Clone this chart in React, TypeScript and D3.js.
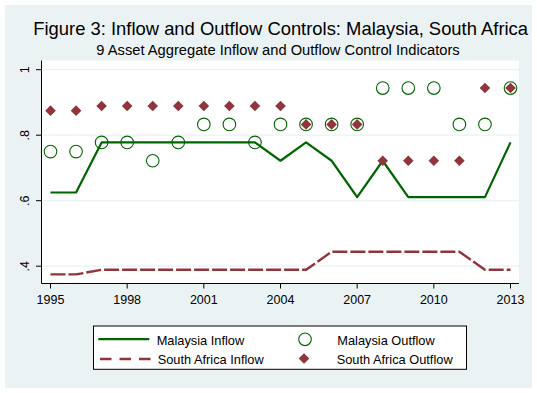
import React from "react";
import * as d3 from "d3";

const years = [1995, 1996, 1997, 1998, 1999, 2000, 2001, 2002, 2003, 2004, 2005, 2006, 2007, 2008, 2009, 2010, 2011, 2012, 2013];
const malaysiaInflow = [0.625, 0.625, 0.778, 0.778, 0.778, 0.778, 0.778, 0.778, 0.778, 0.722, 0.778, 0.722, 0.611, 0.722, 0.611, 0.611, 0.611, 0.611, 0.778];
const malaysiaOutflow = [0.75, 0.75, 0.778, 0.778, 0.722, 0.778, 0.833, 0.833, 0.778, 0.833, 0.833, 0.833, 0.833, 0.944, 0.944, 0.944, 0.833, 0.833, 0.944];
const southAfricaInflow = [0.375, 0.375, 0.389, 0.389, 0.389, 0.389, 0.389, 0.389, 0.389, 0.389, 0.389, 0.444, 0.444, 0.444, 0.444, 0.444, 0.444, 0.389, 0.389];
const southAfricaOutflow = [0.875, 0.875, 0.889, 0.889, 0.889, 0.889, 0.889, 0.889, 0.889, 0.889, 0.833, 0.833, 0.833, 0.722, 0.722, 0.722, 0.722, 0.944, 0.944];
const xTicks = [1995, 1998, 2001, 2004, 2007, 2010, 2013];
const yTicks = [0.4, 0.6, 0.8, 1];
const yTickLabels = [".4", ".6", ".8", "1"];
const title = "Figure 3: Inflow and Outflow Controls: Malaysia, South Africa";
const subtitle = "9 Asset Aggregate Inflow and Outflow Control Indicators";
const legendLabels = ["Malaysia Inflow", "Malaysia Outflow", "South Africa Inflow", "South Africa Outflow"];

const W = 537;
const H = 393;
const GREEN = "#006400";
const MAROON = "#90353B";
const BG = "#EAF2F3";
const FONT = "'Liberation Sans', Arial, sans-serif";

export default function App() {
  const plot = { left: 41.5, right: 519, top: 60.5, bottom: 283.5 };
  const x = d3.scaleLinear().domain([1995, 2013]).range([50.5, 510.5]);
  const y = d3.scaleLinear().domain([0.4, 1]).range([266.2, 69.7]);

  const line = d3
    .line<number>()
    .x((_, i) => x(years[i]))
    .y((d) => y(d));

  const diamond = (cx: number, cy: number, r: number) =>
    `M${cx},${cy - r}L${cx + r},${cy}L${cx},${cy + r}L${cx - r},${cy}Z`;

  return (
    <svg
      width={W}
      height={H}
      style={{ position: "fixed", left: 0, top: 0, display: "block" }}
      fontFamily={FONT}
    >
      <rect x={0} y={0} width={W} height={H} fill="#ffffff" />
      <rect x={5} y={5} width={527} height={383} fill={BG} />

      <text x={33.3} y={34.5} fontSize={18.4} fill="#000">
        {title}
      </text>
      <text x={278} y={55} fontSize={14.7} fill="#000" textAnchor="middle">
        {subtitle}
      </text>

      <rect
        x={plot.left}
        y={plot.top}
        width={plot.right - plot.left}
        height={plot.bottom - plot.top}
        fill="#ffffff"
      />
      {yTicks.map((t) => (
        <line
          key={"g" + t}
          x1={plot.left}
          x2={plot.right}
          y1={y(t)}
          y2={y(t)}
          stroke={BG}
          strokeWidth={1.3}
        />
      ))}

      {/* series */}
      <path d={line(malaysiaInflow) || ""} fill="none" stroke={GREEN} strokeWidth={2.2} strokeLinejoin="round" />
      {malaysiaOutflow.map((v, i) => (
        <circle key={"mo" + i} cx={x(years[i])} cy={y(v)} r={6.3} fill="none" stroke={GREEN} strokeWidth={1.1} />
      ))}
      <path
        d={line(southAfricaInflow) || ""}
        fill="none"
        stroke={MAROON}
        strokeWidth={2.4}
        strokeDasharray="15,3"
      />
      {southAfricaOutflow.map((v, i) => (
        <path key={"so" + i} d={diamond(x(years[i]), y(v), 5.3)} fill={MAROON} />
      ))}

      {/* axes */}
      <line x1={plot.left} x2={plot.left} y1={plot.top} y2={plot.bottom} stroke="#000" strokeWidth={1} />
      <line x1={plot.left} x2={plot.right} y1={plot.bottom} y2={plot.bottom} stroke="#000" strokeWidth={1} />
      {yTicks.map((t, i) => (
        <g key={"yt" + t}>
          <line x1={plot.left - 5.5} x2={plot.left} y1={y(t)} y2={y(t)} stroke="#000" strokeWidth={1} />
          <text
            transform={`translate(28.5,${y(t)}) rotate(-90)`}
            textAnchor="middle"
            fontSize={12.5}
            fill="#000"
          >
            {yTickLabels[i]}
          </text>
        </g>
      ))}
      {xTicks.map((t) => (
        <g key={"xt" + t}>
          <line x1={x(t)} x2={x(t)} y1={plot.bottom} y2={plot.bottom + 5} stroke="#000" strokeWidth={1} />
          <text x={x(t)} y={303.5} textAnchor="middle" fontSize={12.5} fill="#000">
            {t}
          </text>
        </g>
      ))}

      {/* legend */}
      <rect x={93.5} y={326} width={373} height={43.3} fill="#ffffff" stroke="#000" strokeWidth={1} />
      <line x1={98.3} x2={149.3} y1={339.2} y2={339.2} stroke={GREEN} strokeWidth={2.2} />
      <text x={156.7} y={345} fontSize={12.8} fill="#000">
        {legendLabels[0]}
      </text>
      <circle cx={305} cy={339.3} r={6.3} fill="none" stroke={GREEN} strokeWidth={1.1} />
      <text x={337.3} y={344.5} fontSize={12.8} fill="#000">
        {legendLabels[1]}
      </text>
      <line
        x1={100}
        x2={151}
        y1={359}
        y2={359}
        stroke={MAROON}
        strokeWidth={2.4}
        strokeDasharray="11.5,8"
      />
      <text x={157.7} y={364.3} fontSize={12.8} fill="#000">
        {legendLabels[2]}
      </text>
      <path d={diamond(304, 358.5, 5.3)} fill={MAROON} />
      <text x={336.7} y={364} fontSize={12.8} fill="#000">
        {legendLabels[3]}
      </text>
    </svg>
  );
}
